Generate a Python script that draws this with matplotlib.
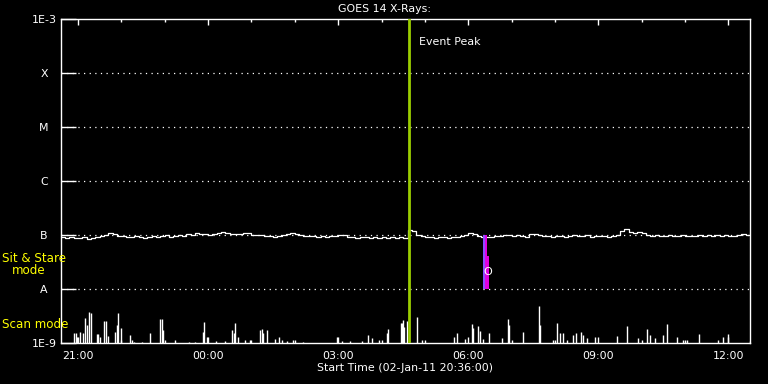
#!/usr/bin/env python3
"""GOES 14 X-ray plot, sit&stare curve + scan-mode spikes."""
import numpy as np
import matplotlib; matplotlib.use('Agg')
import matplotlib.pyplot as plt

# hours since start 02-Jan-11 20:36:00
t_end = 15.9
# sit & stare flux, units of 1e-7 W/m^2, sampled every 0.1 h
flux_ss = [.92,.88,.92,.88,.88,.92,.84,.88,.92,.96, 1.00,1.09,1.04,.96,.96,.92,.92,.96,.92,.88,
           .92,.96,.92,.96,1.00,.92,.96,1.00,.96,1.04, 1.00,1.09,1.04,1.04,1.00,1.04,1.09,1.14,1.09,1.04,
           1.04,1.04,1.09,1.09,1.00,1.00,1.00,.96,.96,.92, .96,1.00,1.04,1.09,1.04,1.00,.96,.96,.96,.92,
           .96,.92,.96,.96,1.00,1.00,.92,.92,.88,.92, .92,.88,.92,.88,.92,.88,.92,.88,.92,.88,
           1.24,1.19,1.00,.96,.92,.92,.88,.92,.92,.88, .92,.92,.96,1.00,1.09,1.04,.96,.92,.92,.92,
           .96,.96,1.00,1.00,.96,1.00,.96,.92,1.04,1.04, 1.00,.96,.96,.92,.96,.96,.92,.96,1.00,.96,
           .96,1.00,.92,.96,.96,.96,.92,.96,1.00,1.19, 1.29,1.14,1.09,1.14,1.09,1.00,.96,1.00,.96,.96,
           1.00,.96,.96,1.00,.96,.96,.96,1.00,.96,1.00, .96,1.00,.96,1.00,.96,.96,1.00,1.04,1.00,1.04]
t_ss = np.arange(len(flux_ss))*0.1

# scan mode spikes: time (h), peak flux in units of 1e-9
spike_t = [0.31,0.35,0.38,0.45,0.51,0.56,0.61,0.65,0.70,0.84,0.86,0.91,1.00,1.05,1.09,1.25,1.30,1.32,1.39,
           1.60,1.65,1.69,1.88,2.05,2.29,2.34,2.36,2.64,2.96,3.10,3.28,3.31,3.37,3.58,3.79,3.95,4.00,
           4.02,4.09,4.25,4.37,4.60,4.65,4.67,4.76,4.95,5.04,5.11,5.23,5.36,5.59,6.38,6.50,6.68,6.95,
           7.08,7.18,7.35,7.53,7.55,7.85,7.88,7.90,7.92,7.99,8.22,8.34,9.08,9.15,9.33,9.49,9.52,9.63,
           9.68,9.75,9.88,10.18,10.32,10.35,10.67,11.04,11.06,11.36,11.45,11.52,11.59,11.69,11.82,11.89,
           12.01,12.05,12.15,12.33,12.84,13.07,13.32,13.53,13.60,13.71,13.90,13.99,14.22,14.36,14.45,
           14.73,15.17,15.28,15.40,15.91]
spike_v = [1.53,1.53,1.29,1.60,1.53,2.86,2.15,3.70,3.55,1.47,1.47,1.29,2.56,2.56,1.35,1.62,2.15,3.55,1.87,
           1.41,1.14,1.06,1.06,1.51,2.74,2.74,1.74,1.14,1.06,1.06,1.62,2.48,1.31,1.10,1.10,1.74,1.51,
           2.38,1.27,1.14,1.14,1.74,1.79,1.51,1.74,1.17,1.27,1.14,1.08,1.14,1.04,1.27,1.10,1.08,1.08,
           1.41,1.22,1.14,1.51,1.82,2.32,2.32,2.67,2.00,2.59,2.99,1.14,1.31,1.55,1.17,2.25,1.87,2.06,
           1.69,1.17,1.55,1.22,2.74,2.15,1.62,4.84,2.15,1.14,2.38,1.51,1.55,1.14,1.41,1.51,
           1.62,1.41,1.22,1.27,1.35,2.06,1.22,1.79,1.41,1.22,1.41,2.25,1.31,1.14,1.14,
           1.47,1.14,1.31,1.47,1.09]

tick_t = [0.4,3.4,6.4,9.4,12.4,15.4]
tick_lab = ['21:00','00:00','03:00','06:00','09:00','12:00']
minor_t = [1.4,2.4,4.4,5.4,7.4,8.4,10.4,11.4,13.4,14.4]
ylev = [1e-9,1e-8,1e-7,1e-6,1e-5,1e-4,1e-3]
ylab = ['1E-9','A','B','C','M','X','1E-3']
event_t = 8.04
bar_t = [9.74,9.79,9.84,9.88]   # purple / magenta segments

FS = 7.9
W,H = 768,384
fig = plt.figure(figsize=(W/100,H/100),dpi=100,facecolor='black')
ax = fig.add_axes([60.7/W,41/H,(750-60.7)/W,(343-19.3)/H],facecolor='black')
ax.set_yscale('log'); ax.set_ylim(1e-9,1e-3); ax.set_xlim(0,t_end)

for lv in ylev[1:-1]:
    ax.axhline(lv,color='white',lw=0.9,ls=(0,(1,3.5)),zorder=1)
ax.plot(t_ss,np.array(flux_ss)*1e-7,color='white',lw=0.9,drawstyle='steps-post',zorder=3)
ax.vlines(spike_t,1e-9,np.array(spike_v)*1e-9,color='white',lw=1.0,zorder=3)

ax.axvline(event_t,color='#9acd00',lw=2,zorder=4)
ax.text(event_t+0.22,10**-3.43,'Event Peak',color='white',fontsize=FS,va='center')

ax.fill_between([bar_t[0],bar_t[1]],1e-8,1e-7,color='#8a4dff',lw=0,zorder=5)
ax.fill_between([bar_t[1],bar_t[2]],1e-8,1e-7,color='#e000e0',lw=0,zorder=5)
ax.fill_between([bar_t[2],bar_t[3]],1e-8,10**-7.39,color='#e000e0',lw=0,zorder=5)
ax.text(bar_t[2]+0.01,10**-7.685,'O',color='white',fontsize=8,ha='center',va='center',zorder=6)

for s in ax.spines.values():
    s.set_color('white'); s.set_linewidth(1.0)
ax.set_yticks(ylev); ax.set_yticklabels(ylab)
ax.yaxis.set_minor_locator(matplotlib.ticker.NullLocator())
ax.tick_params(axis='y',direction='in',length=11,width=1,colors='white',labelsize=FS,pad=12)
for lab in ax.get_yticklabels(): lab.set_ha('center')
ax.set_xticks(tick_t); ax.set_xticklabels(tick_lab)
ax.set_xticks(minor_t,minor=True)
ax.tick_params(axis='x',which='major',direction='in',length=4.5,width=1,colors='white',
               labelsize=FS,pad=6,top=True)
ax.tick_params(axis='x',which='minor',direction='in',length=2.2,width=1,colors='white',top=True)

fig.text(385/W,1-9/H,'GOES 14 X-Rays:',color='white',fontsize=FS,ha='center',va='center')
fig.text(405/W,1-368/H,'Start Time (02-Jan-11 20:36:00)',color='white',fontsize=FS,ha='center',va='center')
fig.text(2/W,1-259/H,'Sit & Stare',color='yellow',fontsize=8.6,va='center')
fig.text(12/W,1-271/H,'mode',color='yellow',fontsize=8.6,va='center')
fig.text(2/W,1-324/H,'Scan mode',color='yellow',fontsize=8.6,va='center')

plt.savefig('out.png',dpi=100,facecolor='black')
